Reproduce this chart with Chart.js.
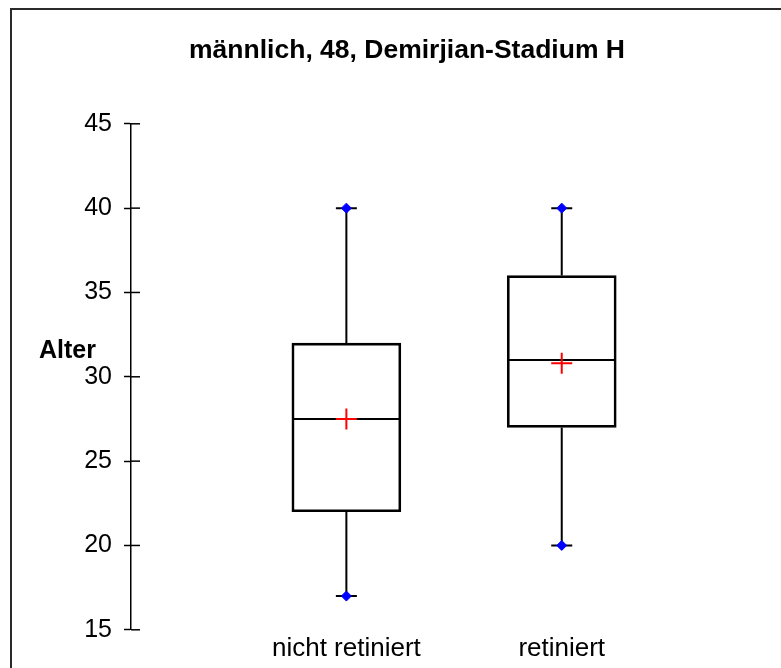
<!DOCTYPE html>
<html>
<head>
<meta charset="utf-8">
<title>Alter – Boxplot</title>
<script src="https://cdn.jsdelivr.net/npm/chart.js@4.4.1/dist/chart.umd.min.js"></script>
<style>
  html, body { margin: 0; padding: 0; background: #fff; }
  #wrap { position: relative; width: 781px; height: 668px; }
  #frame {
    position: absolute; left: 10px; top: 8px; right: 0; bottom: 0;
    border-top: 2px solid #2a2a2a; border-left: 2px solid #2a2a2a;
    pointer-events: none;
  }
</style>
</head>
<body>
<div id="wrap">
  <canvas id="chart"></canvas>
  <div id="frame"></div>
</div>
<script>
const categories = ["nicht retiniert", "retiniert"];
const whiskerLow = [17, 20];
const q1 = [22, 27];
const median = [27.5, 31];
const q3 = [32, 36];
const whiskerHigh = [40, 40];
const means = [27.5, 30.8];

const yMin = 15;
const yMax = 45;
const yStep = 5;

const FONT = "'Liberation Sans', Arial, sans-serif";
const BOX_W = 109;

// whiskers, caps, medians and the inner half of the y ticks
const boxExtras = {
  id: "boxExtras",
  beforeDatasetsDraw(chart) {
    const { ctx, scales: { x, y } } = chart;
    ctx.save();
    ctx.strokeStyle = "#000";
    ctx.lineWidth = 2;
    categories.forEach((c, i) => {
      const cx = x.getPixelForValue(i + 1);
      ctx.beginPath();
      ctx.moveTo(cx, y.getPixelForValue(whiskerLow[i]));
      ctx.lineTo(cx, y.getPixelForValue(q1[i]));
      ctx.moveTo(cx, y.getPixelForValue(q3[i]));
      ctx.lineTo(cx, y.getPixelForValue(whiskerHigh[i]));
      [whiskerLow[i], whiskerHigh[i]].forEach((v) => {
        const py = y.getPixelForValue(v);
        ctx.moveTo(cx - 10.5, py);
        ctx.lineTo(cx + 10.5, py);
      });
      const my = y.getPixelForValue(median[i]);
      ctx.moveTo(cx - BOX_W / 2 + 1, my);
      ctx.lineTo(cx + BOX_W / 2 - 1, my);
      ctx.stroke();
    });
    ctx.lineWidth = 1.5;
    y.ticks.forEach((t) => {
      const py = y.getPixelForValue(t.value);
      ctx.beginPath();
      ctx.moveTo(chart.chartArea.left, py);
      ctx.lineTo(chart.chartArea.left + 9, py);
      ctx.stroke();
    });
    ctx.fillStyle = "#000";
    ctx.font = "bold 25px " + FONT;
    ctx.textAlign = "left";
    ctx.textBaseline = "alphabetic";
    ctx.fillText("Alter", 39, 358);
    ctx.restore();
  },
};

new Chart(document.getElementById("chart"), {
  data: {
    datasets: [
      {
        type: "bar",
        data: categories.map((c, i) => ({ x: i + 1, y: [q1[i], q3[i]] })),
        backgroundColor: "rgba(0,0,0,0)",
        borderColor: "#000",
        borderWidth: 2,
        borderSkipped: false,
        barThickness: BOX_W,
        order: 2,
      },
      {
        type: "scatter",
        data: categories.map((c, i) => ({ x: i + 1, y: means[i] })),
        pointStyle: "cross",
        radius: 10.5,
        borderColor: "#ff0000",
        borderWidth: 2,
        order: 1,
      },
      {
        type: "scatter",
        data: categories.flatMap((c, i) => [
          { x: i + 1, y: whiskerLow[i] },
          { x: i + 1, y: whiskerHigh[i] },
        ]),
        pointStyle: "rectRot",
        radius: 5,
        backgroundColor: "#0000ff",
        borderColor: "#0000ff",
        borderWidth: 1,
        order: 0,
      },
    ],
  },
  options: {
    responsive: true,
    maintainAspectRatio: false,
    animation: false,
    events: [],
    layout: { padding: { left: 38, right: 5, top: 0, bottom: 1 } },
    plugins: {
      legend: { display: false },
      tooltip: { enabled: false },
      title: {
        display: true,
        text: "männlich, 48, Demirjian-Stadium H",
        color: "#000",
        font: { family: FONT, size: 26.5, weight: "bold" },
        padding: { top: 35, bottom: 57 },
      },
    },
    scales: {
      x: {
        type: "linear",
        min: 0,
        max: 2.96,
        offset: false,
        afterBuildTicks: (scale) => {
          scale.ticks = categories.map((c, i) => ({ value: i + 1 }));
        },
        ticks: {
          color: "#000",
          font: { family: FONT, size: 26 },
          padding: 3,
          callback: (v) => categories[v - 1],
        },
        grid: { display: false, drawTicks: false, offset: false },
        border: { display: false },
      },
      y: {
        min: yMin,
        max: yMax,
        afterFit: (scale) => {
          scale.width = 93;
        },
        ticks: {
          stepSize: yStep,
          color: "#000",
          font: { family: FONT, size: 25 },
          padding: 12,
        },
        grid: {
          drawOnChartArea: false,
          tickLength: 7,
          tickWidth: 1.5,
          tickColor: "#000",
        },
        border: { display: true, color: "#000", width: 1.5 },
      },
    },
  },
  plugins: [boxExtras],
});
</script>
</body>
</html>
